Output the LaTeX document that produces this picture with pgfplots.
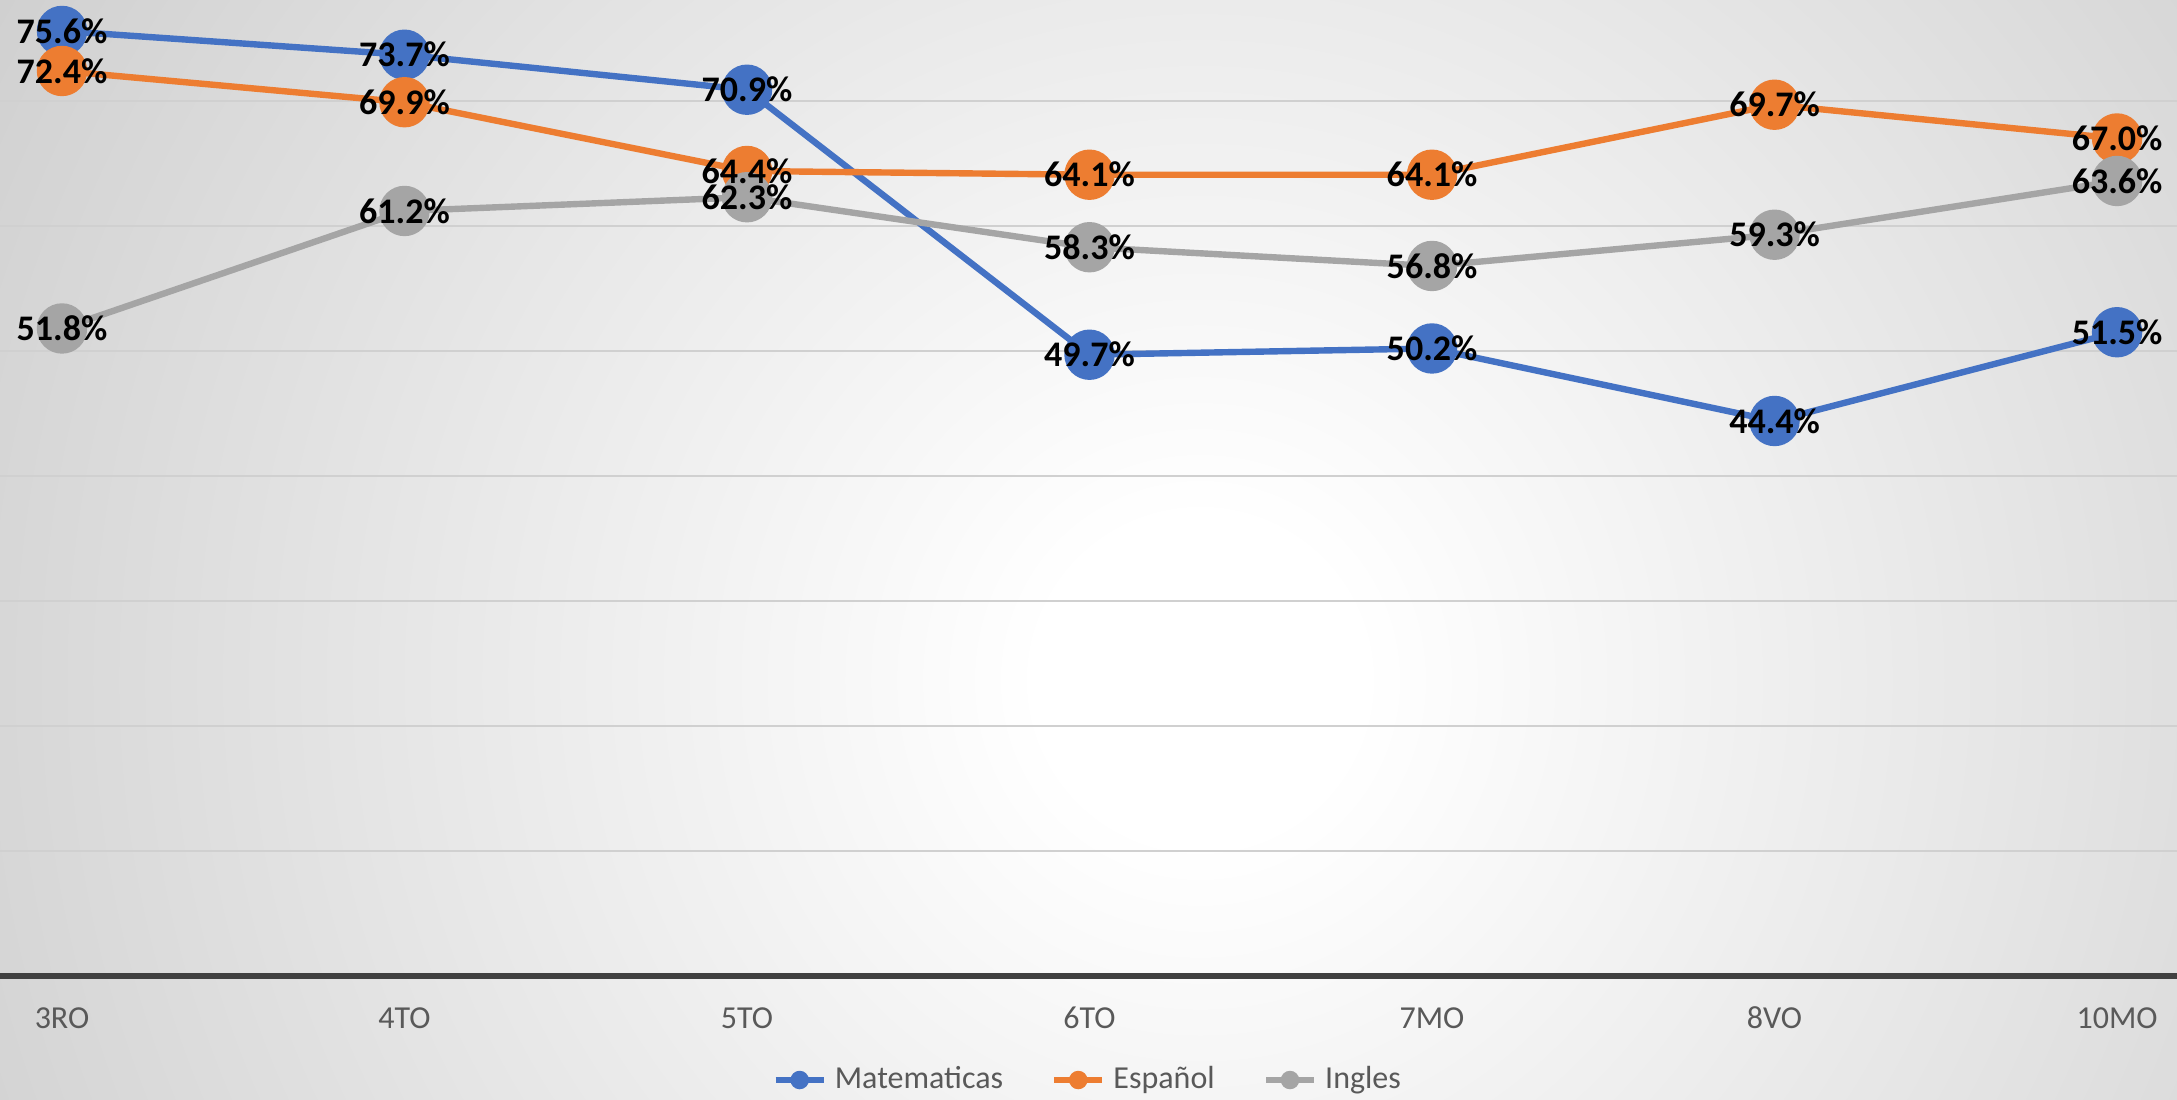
\documentclass[border=0pt]{standalone}
\usepackage{pgfplots}
\pgfplotsset{compat=1.18}
\usepackage{fontspec}
\setmainfont{Carlito}
\definecolor{cblue}{HTML}{4472C4}
\definecolor{corange}{HTML}{ED7D31}
\definecolor{cgray}{HTML}{A5A5A5}
\definecolor{txtgray}{HTML}{595959}
\definecolor{gridgray}{HTML}{D0D0D0}
\definecolor{axisdark}{HTML}{404040}
\definecolor{bgedge}{HTML}{CFCFCF}
\pgfdeclareradialshading{bgshade}{\pgfpoint{0bp}{0bp}}{color(0bp)=(white); color(40bp)=(white); color(350bp)=(bgedge); color(420bp)=(bgedge)}
\pgfplotstableread{
x mat esp ing
0 75.6 72.4 51.8
1 73.7 69.9 61.2
2 70.9 64.4 62.3
3 49.7 64.1 58.3
4 50.2 64.1 56.8
5 44.4 69.7 59.3
6 51.5 67.0 63.6
}\datatable
\begin{document}
\begin{tikzpicture}
\begin{scope}
\clip (0pt,-31pt) rectangle (544.25pt,244pt);
\node[inner sep=0pt] at (300pt,74pt) {\pgfuseshading{bgshade}};
\end{scope}
\begin{axis}[
  at={(0pt,0pt)}, anchor=south west,
  scale only axis, width=544.25pt, height=244pt,
  xmin=-0.181, xmax=6.175, ymin=0, ymax=78.08,
  clip=false,
  axis line style={draw=none},
  ytick={10,20,30,40,50,60,70}, yticklabels={},
  ymajorgrids, major grid style={gridgray, line width=0.6pt},
  major tick length=0pt,
  xtick={0,1,2,3,4,5,6},
  xticklabels={3RO,4TO,5TO,6TO,7MO,8VO,10MO},
  /pgf/number format/assume math mode=true,
  xticklabel style={anchor=center, yshift=-10.5pt, font=\fontsize{8}{9}\selectfont, text=txtgray},
  legend style={at={(axis description cs:0.501,-0.1066)}, anchor=center, draw=none, fill=none,
    font=\fontsize{8}{9}\selectfont, text=txtgray,
    /tikz/every even column/.append style={column sep=10pt}},
  legend columns=3,
  legend image code/.code={\draw[line width=1.6pt] (0pt,0pt) -- (12pt,0pt); \fill (6pt,0pt) circle (1.5pt);},
  every axis plot/.append style={line width=1.6pt, mark=*, mark size=5.5pt, mark options={draw=none}},
  lbl/.style={forget plot, draw=none, mark=none, point meta=y,
    nodes near coords={\pgfmathprintnumber[fixed,fixed zerofill,precision=1]{\pgfplotspointmeta}\%},
    every node near coord/.append style={anchor=center, text=black, font=\bfseries\fontsize{9}{10}\selectfont}},
]
\addplot[color=cblue] table[x=x,y=mat] {\datatable};
\addlegendentry{Matematicas}
\addplot[color=corange] table[x=x,y=esp] {\datatable};
\addlegendentry{Español}
\addplot[color=cgray] table[x=x,y=ing] {\datatable};
\addlegendentry{Ingles}
\addplot[lbl] table[x=x,y=mat] {\datatable};
\addplot[lbl] table[x=x,y=esp] {\datatable};
\addplot[lbl] table[x=x,y=ing] {\datatable};
\draw[axisdark, line width=1.5pt] (axis cs:-0.181,0) -- (axis cs:6.175,0);
\end{axis}
\pgfresetboundingbox
\useasboundingbox (0pt,-31pt) rectangle (544.25pt,244pt);
\end{tikzpicture}
\end{document}
